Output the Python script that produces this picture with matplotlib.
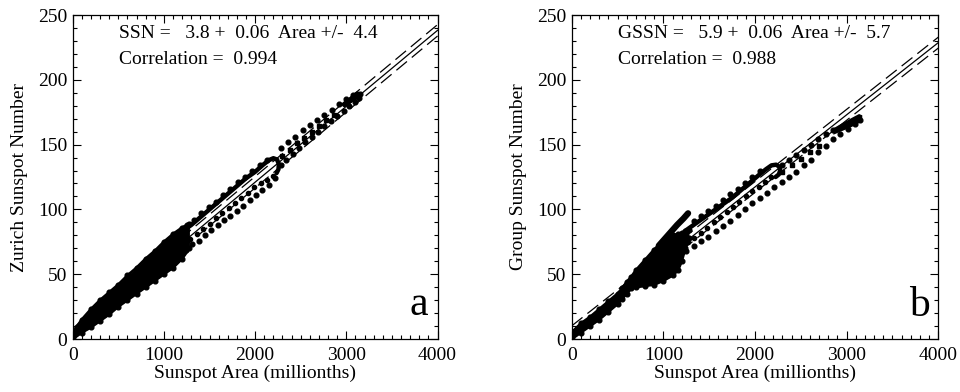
import matplotlib.pyplot as plt
from matplotlib.ticker import MultipleLocator

plt.rcParams['font.family'] = ['Liberation Serif', 'DejaVu Serif']

# ---- (a) Zurich sunspot number vs sunspot area ----
a_fit = (3.8, 0.0586)      # intercept, slope
a_dash_off = 4.4

a_band_area = [0, 100, 200, 300, 400, 500, 600, 700, 800, 900, 1000, 1100, 1200, 1280]
a_band_up = [5, 15, 23, 30, 36, 42, 49, 55, 62, 68, 75, 81, 86, 89]
a_band_low = [0, 5, 9, 14, 19, 25, 30, 35, 40, 45, 50, 55, 62, 70]

a_loop_area = [1200, 1300, 1400, 1500, 1600, 1700, 1800, 1900, 2000, 2080, 2150, 2200, 2240, 2260, 2256, 2235]
a_loop_ssn = [83, 88, 94, 100, 106, 112, 118, 124, 129, 134, 138, 139.5, 138.5, 135, 131, 128]
a_loop_dots_area = [1250, 1330, 1410, 1490, 1570, 1650, 1730, 1810, 1890, 1970, 2050, 2130]
a_loop_dots_ssn = [88, 92, 97, 102, 106, 111, 116, 121, 125, 130, 134, 138]
a_loop_back_area = [2200, 2130, 2060, 1990, 1920, 1850, 1780, 1710, 1640, 1570, 1500, 1430, 1360, 1290]
a_loop_back_ssn = [126, 123, 120, 117, 113, 109, 105, 101, 97, 93, 89, 85, 81, 77]

a_upper_area = [2280, 2360, 2440, 2520, 2600, 2680, 2760, 2840, 2920, 3000, 3070, 3120, 3150]
a_upper_ssn = [147, 152, 156, 161, 165, 169, 173, 177, 181, 185, 188, 189, 189]
a_mid_area = [2300, 2380, 2460, 2540, 2620, 2700, 2780, 2860]
a_mid_ssn = [141, 146, 151, 155, 160, 164, 169, 173]
a_lower_area = [3140, 3090, 3030, 2970, 2900, 2830, 2760, 2690, 2620, 2550, 2480, 2410, 2340, 2280,
                2220, 2150, 2080, 2010, 1940, 1870, 1800, 1730, 1660, 1590, 1520, 1450, 1380, 1310, 1240]
a_lower_ssn = [186, 183, 180, 176, 172, 168, 164, 160, 156, 152, 147, 143, 138, 134,
               124, 119, 115, 111, 107, 103, 99, 95, 92, 88, 84, 80, 76, 73, 69]
a_end_area = [2980, 3060, 3140]
a_end_ssn = [181, 185, 188]

# ---- (b) group sunspot number vs sunspot area ----
b_fit = (5.9, 0.0557)
b_dash_off = 4.2

b_band_area = [0, 100, 200, 300, 400, 500, 550, 600, 650, 700, 800, 900, 1000, 1100, 1160, 1200, 1240, 1280]
b_band_up = [5, 12, 17, 23, 29, 35, 39, 44, 48, 53, 61, 69, 76, 80, 81, 82, 83, 84]
b_band_low = [0, 5, 10, 15, 21, 27, 31, 35, 39, 40, 41, 42, 45, 49, 53, 60, 70, 78]
b_arm_area = [950, 1050, 1150, 1220, 1270]
b_arm_ssn = [72, 80, 88, 93, 97]

b_loop_area = [1250, 1350, 1450, 1550, 1650, 1750, 1850, 1950, 2050, 2120, 2180, 2230, 2265, 2275, 2260, 2225]
b_loop_ssn = [84, 89, 94, 99, 104, 109, 115, 121, 127, 131, 134, 134.5, 133, 130, 127, 125]
b_loop_dots_area = [1330, 1410, 1490, 1570, 1650, 1730, 1810, 1890, 1970, 2050]
b_loop_dots_ssn = [91, 95, 99, 103, 107, 112, 116, 120, 125, 130]
b_loop_back_area = [2180, 2110, 2040, 1970, 1900, 1830, 1760, 1690, 1620, 1550, 1480, 1410, 1340, 1270]
b_loop_back_ssn = [125, 121, 117, 114, 110, 106, 102, 98, 94, 90, 86, 82, 78, 75]

b_lower_area = [1250, 1330, 1410, 1490, 1570, 1650, 1730, 1810, 1890, 1970, 2050, 2130, 2210,
                2290, 2370, 2450, 2530, 2610, 2690, 2770, 2850, 2930, 3010, 3090, 3150]
b_lower_ssn = [68, 72, 76, 79, 83, 87, 91, 96, 100, 105, 109, 113, 117,
               121, 125, 129, 134, 138, 144, 149, 154, 158, 162, 166, 169]
b_upper_area = [2290, 2370, 2450, 2530, 2610, 2690, 2770, 2850]
b_upper_ssn = [134, 138, 142, 146, 150, 154, 158, 161]
b_mid_area = [2300, 2400, 2500, 2600, 2700]
b_mid_ssn = [129, 134, 139, 144, 149]
b_end_area = [2850, 2950, 3050, 3130, 3165]
b_end_up = [163, 167, 171, 174, 173]
b_end_low = [158, 161, 164, 167, 170]

xticks = [0, 1000, 2000, 3000, 4000]
yticks = [0, 50, 100, 150, 200, 250]

FS = 14
MS = 3.4


def setup_axes(ax, ylabel, fit, off):
    ax.set_xlim(0, 4000)
    ax.set_ylim(0, 250)
    ax.set_xticks(xticks)
    ax.set_yticks(yticks)
    ax.xaxis.set_minor_locator(MultipleLocator(100))
    ax.yaxis.set_minor_locator(MultipleLocator(10))
    ax.tick_params(which='both', direction='in', top=True, right=True, labelsize=FS, width=0.8)
    ax.tick_params(which='major', length=6)
    ax.tick_params(which='minor', length=3)
    ax.tick_params(axis='x', pad=6)
    ax.tick_params(axis='y', pad=4)
    for s in ax.spines.values():
        s.set_linewidth(0.9)
    ax.set_xlabel('Sunspot Area (millionths)', fontsize=FS, labelpad=0)
    ax.set_ylabel(ylabel, fontsize=FS, labelpad=7)
    # 회귀선과 +/- 오차선
    ax.axline((0, fit[0]), slope=fit[1], color='black', lw=0.9, zorder=1)
    for sgn in (1, -1):
        ax.axline((0, fit[0] + sgn * off), slope=fit[1], color='black', lw=0.9,
                  ls=(0, (11, 5)), zorder=1)


fig = plt.figure(figsize=(9.6, 3.92), dpi=100)
ax1 = fig.add_axes([0.0757, 0.1352, 0.3801, 0.8265])
ax2 = fig.add_axes([0.5955, 0.1352, 0.3819, 0.8265])

setup_axes(ax1, 'Zurich Sunspot Number', a_fit, a_dash_off)
setup_axes(ax2, 'Group Sunspot Number', b_fit, b_dash_off)

k = dict(color='black', zorder=3)

# (a) 데이터
ax1.fill_between(a_band_area, a_band_low, a_band_up, lw=0, **k)
ax1.plot(a_band_area, a_band_up, 'o-', ms=MS, lw=2, **k)
ax1.plot(a_band_area, a_band_low, 'o-', ms=MS, lw=2, **k)
ax1.plot(a_loop_area, a_loop_ssn, '-', lw=3.2, solid_capstyle='round', **k)
ax1.plot(a_loop_dots_area, a_loop_dots_ssn, 'o', ms=MS, **k)
ax1.plot(a_loop_back_area, a_loop_back_ssn, 'o', ms=3, **k)
ax1.plot(a_upper_area, a_upper_ssn, 'o', ms=MS, **k)
ax1.plot(a_mid_area, a_mid_ssn, 's', ms=2.6, **k)
ax1.plot(a_lower_area, a_lower_ssn, 'o', ms=MS, **k)
ax1.plot(a_end_area, a_end_ssn, '-', lw=4, solid_capstyle='round', **k)

# (b) 데이터
ax2.fill_between(b_band_area, b_band_low, b_band_up, lw=0, **k)
ax2.plot(b_band_area, b_band_up, 'o-', ms=MS, lw=2, **k)
ax2.plot(b_band_area, b_band_low, 'o-', ms=MS, lw=2, **k)
ax2.plot(b_arm_area, b_arm_ssn, '-', lw=4.5, solid_capstyle='round', **k)
ax2.plot(b_loop_area, b_loop_ssn, '-', lw=3.2, solid_capstyle='round', **k)
ax2.plot(b_loop_dots_area, b_loop_dots_ssn, 'o', ms=MS, **k)
ax2.plot(b_loop_back_area, b_loop_back_ssn, 'o', ms=3, **k)
ax2.plot(b_lower_area, b_lower_ssn, 'o', ms=MS, **k)
ax2.plot(b_upper_area, b_upper_ssn, 'o', ms=MS, **k)
ax2.plot(b_mid_area, b_mid_ssn, 's', ms=2.6, **k)
ax2.fill_between(b_end_area, b_end_low, b_end_up, lw=0, **k)

# 텍스트
ax1.text(0.127, 0.944, 'SSN =   3.8 +  0.06  Area +/-  4.4', transform=ax1.transAxes,
         va='center', fontsize=FS)
ax1.text(0.127, 0.864, 'Correlation =  0.994', transform=ax1.transAxes, va='center', fontsize=FS)
ax2.text(0.125, 0.944, 'GSSN =   5.9 +  0.06  Area +/-  5.7', transform=ax2.transAxes,
         va='center', fontsize=FS)
ax2.text(0.125, 0.864, 'Correlation =  0.988', transform=ax2.transAxes, va='center', fontsize=FS)
ax1.text(0.974, 0.075, 'a', transform=ax1.transAxes, ha='right', va='baseline', fontsize=30)
ax2.text(0.977, 0.072, 'b', transform=ax2.transAxes, ha='right', va='baseline', fontsize=30)

fig.savefig('out.png', dpi=100)
